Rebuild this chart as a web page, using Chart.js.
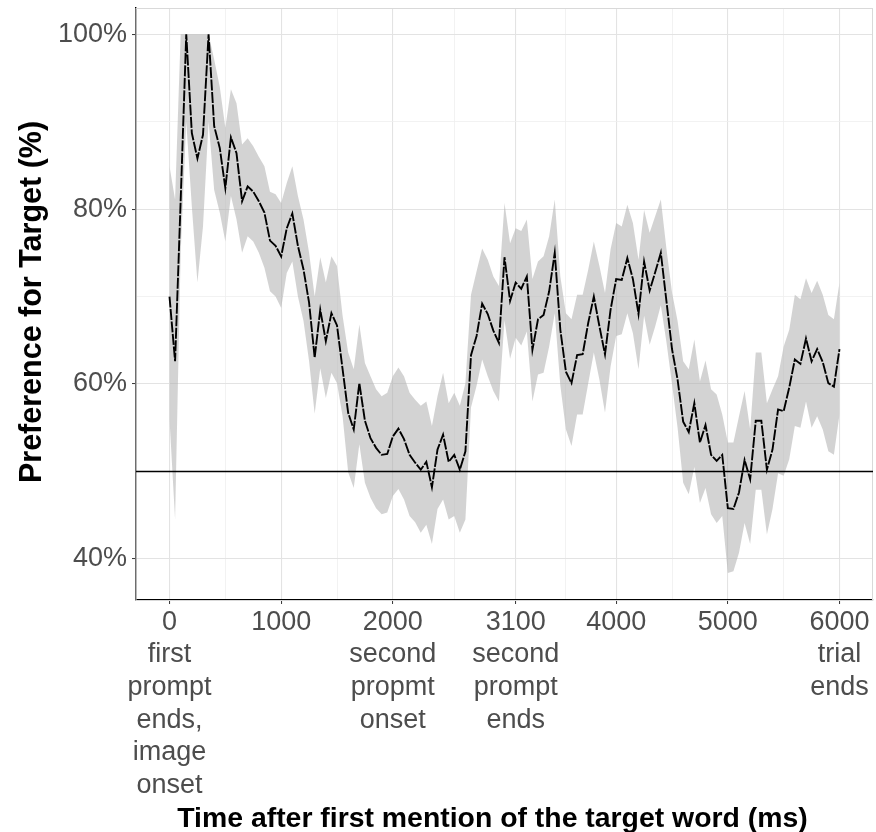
<!DOCTYPE html>
<html>
<head>
<meta charset="utf-8">
<title>Preference for Target over time</title>
<script src="https://cdn.jsdelivr.net/npm/chart.js@4.4.1/dist/chart.umd.min.js"></script>
<style>
  html, body { margin: 0; padding: 0; background: #fff; }
  #wrap { width: 876px; height: 832px; position: relative; }
</style>
</head>
<body>
<div id="wrap"><canvas id="prefChart"></canvas></div>
<script>
// time bins (ms after first mention)
const timeMs = [
  0, 50, 100, 150, 200, 250, 300, 350, 400, 450,
  500, 550, 600, 650, 700, 750, 800, 850, 900, 950,
  1000, 1050, 1100, 1150, 1200, 1250, 1300, 1350, 1400, 1450,
  1500, 1550, 1600, 1650, 1700, 1750, 1800, 1850, 1900, 1950,
  2000, 2050, 2100, 2150, 2200, 2250, 2300, 2350, 2400, 2450,
  2500, 2550, 2600, 2650, 2700, 2750, 2800, 2850, 2900, 2950,
  3000, 3050, 3100, 3150, 3200, 3250, 3300, 3350, 3400, 3450,
  3500, 3550, 3600, 3650, 3700, 3750, 3800, 3850, 3900, 3950,
  4000, 4050, 4100, 4150, 4200, 4250, 4300, 4350, 4400, 4450,
  4500, 4550, 4600, 4650, 4700, 4750, 4800, 4850, 4900, 4950,
  5000, 5050, 5100, 5150, 5200, 5250, 5300, 5350, 5400, 5450,
  5500, 5550, 5600, 5650, 5700, 5750, 5800, 5850, 5900, 5950,
  6000
];

// mean preference for target (%)
const meanPref = [
  70.0, 62.6, 81.0, 100, 88.7, 85.8, 88.5, 100, 89.5, 87.0,
  82.4, 88.2, 86.4, 80.9, 82.6, 82.0, 80.9, 79.6, 76.4, 75.8,
  74.6, 77.8, 79.5, 75.8, 73.1, 69.3, 63.0, 68.5, 64.9, 68.1,
  66.7, 61.7, 56.7, 54.8, 60.1, 55.8, 53.8, 52.7, 51.9, 52.0,
  54.0, 54.9, 53.7, 51.9, 51.0, 50.2, 51.1, 48.2, 52.5, 54.2,
  51.1, 51.9, 50.2, 52.3, 63.3, 65.5, 69.2, 68.0, 66.1, 64.7,
  74.5, 69.5, 71.6, 70.9, 72.3, 63.9, 67.4, 67.9, 70.6, 75.0,
  66.2, 61.4, 60.1, 63.3, 63.4, 67.0, 70.0, 66.6, 63.4, 68.5,
  72.0, 71.9, 74.4, 72.0, 68.0, 74.0, 70.7, 72.8, 75.0, 69.5,
  64.0, 60.5, 55.7, 54.5, 57.8, 53.3, 55.3, 51.9, 51.2, 51.9,
  45.8, 45.7, 47.6, 51.3, 49.1, 55.8, 55.8, 50.2, 52.5, 57.1,
  56.9, 59.6, 62.8, 62.3, 65.2, 62.6, 64.0, 62.5, 60.1, 59.7,
  64.0
];

// upper edge of the grey band (%)
const upperPref = [
  84.9, 81.1, 100, 100, 100, 100, 100, 100, 97.1, 94.0,
  89.3, 93.7, 92.1, 87.4, 88.1, 87.2, 86.0, 84.9, 82.0, 81.7,
  80.7, 83.0, 84.9, 81.5, 78.8, 75.0, 70.0, 74.5, 71.6, 74.6,
  73.5, 67.8, 63.6, 61.7, 66.8, 62.4, 60.9, 59.4, 58.6, 59.0,
  60.9, 61.9, 60.9, 59.0, 58.2, 57.5, 58.0, 55.2, 58.6, 61.3,
  57.8, 59.0, 57.5, 60.1, 70.2, 72.9, 75.5, 74.2, 72.3, 71.2,
  80.7, 76.1, 77.8, 77.5, 78.8, 72.0, 74.0, 74.6, 76.9, 81.1,
  72.3, 68.1, 67.4, 70.2, 70.2, 73.1, 76.3, 73.5, 70.4, 75.4,
  78.4, 78.0, 80.5, 78.4, 74.2, 79.9, 77.3, 79.2, 81.1, 75.5,
  70.5, 67.2, 62.6, 61.7, 65.1, 60.3, 62.7, 59.4, 58.8, 56.5,
  53.3, 53.3, 56.3, 59.2, 54.8, 63.6, 63.6, 57.8, 59.4, 60.9,
  64.3, 66.2, 70.2, 69.7, 72.1, 70.4, 71.8, 70.2, 67.9, 67.4,
  71.6
];

// lower edge of the grey band (%)
const lowerPref = [
  56.0, 44.5, 75.0, 90.0, 80.3, 71.6, 78.0, 90.0, 82.2, 79.6,
  76.3, 81.5, 78.8, 75.0, 76.9, 76.3, 75.0, 73.3, 70.6, 70.0,
  68.7, 72.7, 74.0, 70.0, 67.2, 62.6, 56.6, 61.8, 58.4, 61.3,
  60.1, 56.3, 49.9, 48.1, 53.1, 48.7, 47.0, 45.8, 45.1, 45.3,
  47.2, 48.0, 46.8, 44.9, 44.2, 43.0, 43.9, 41.7, 45.7, 46.8,
  44.5, 44.9, 43.0, 44.5, 57.3, 59.8, 62.8, 60.9, 59.2, 58.0,
  67.3, 62.9, 65.3, 64.4, 66.0, 58.0, 61.1, 61.3, 64.3, 68.1,
  59.8, 54.8, 52.9, 56.5, 56.5, 60.1, 63.6, 60.5, 56.7, 62.0,
  65.5, 65.7, 68.1, 65.8, 61.7, 67.8, 64.5, 66.6, 69.0, 64.8,
  60.0, 55.0, 48.7, 47.4, 50.5, 46.4, 48.1, 45.1, 44.1, 44.9,
  38.4, 38.6, 40.7, 44.1, 41.7, 47.9, 47.9, 42.8, 45.7, 49.8,
  49.5, 51.4, 55.2, 55.0, 58.0, 55.0, 56.3, 54.8, 52.3, 51.9,
  56.5
];

// axis ticks (minor ones get no label)
const xTickValues = [0, 500, 1000, 1500, 2000, 2550, 3100, 3550, 4000, 4500, 5000, 5500, 6000];
const xTickLabels = {
  0: ["0", "first", "prompt", "ends,", "image", "onset"],
  1000: ["1000"],
  2000: ["2000", "second", "propmt", "onset"],
  3100: ["3100", "second", "prompt", "ends"],
  4000: ["4000"],
  5000: ["5000"],
  6000: ["6000", "trial", "ends"]
};
const yTickValues = [40, 50, 60, 70, 80, 90, 100];
const yTickLabels = { 40: "40%", 60: "60%", 80: "80%", 100: "100%" };
const chanceLevel = 50;

const xTitle = "Time after first mention of the target word (ms)";
const yTitle = "Preference for Target (%)";

Chart.defaults.font.family = '"Liberation Sans", Arial, Helvetica, sans-serif';

const toPoints = vals => timeMs.map((t, i) => ({ x: t, y: vals[i] }));

// grey frame, 50% line and the two axis titles
const decorations = {
  id: "decorations",
  beforeDatasetsDraw(chart) {
    const { ctx, chartArea: a } = chart;
    ctx.save();
    ctx.strokeStyle = "#d9d9d9";
    ctx.lineWidth = 1;
    ctx.strokeRect(a.left, a.top + 0.5, a.right - a.left - 0.5, a.bottom - a.top);
    ctx.restore();
  },
  afterDatasetsDraw(chart) {
    const { ctx, chartArea: a, scales } = chart;
    const y = scales.y.getPixelForValue(chanceLevel);
    ctx.save();
    ctx.strokeStyle = "#000";
    ctx.lineWidth = 1.4;
    ctx.beginPath();
    ctx.moveTo(a.left, y);
    ctx.lineTo(a.right, y);
    ctx.stroke();
    ctx.restore();
  },
  afterDraw(chart) {
    const { ctx, chartArea: a } = chart;
    ctx.save();
    ctx.fillStyle = "#000";
    ctx.font = 'bold 28.4px "Liberation Sans", Arial, sans-serif';
    ctx.textAlign = "center";
    ctx.textBaseline = "alphabetic";
    ctx.fillText(xTitle, (a.left + a.right) / 2 - 12, 827);

    ctx.font = 'bold 30.5px "Liberation Sans", Arial, sans-serif';
    ctx.translate(41, (a.top + a.bottom) / 2 - 2);
    ctx.rotate(-Math.PI / 2);
    ctx.fillText(yTitle, 0, 0);
    ctx.restore();
  }
};

const isMajorX = v => xTickLabels[v] !== undefined;
const isMajorY = v => yTickLabels[v] !== undefined;

new Chart(document.getElementById("prefChart"), {
  type: "line",
  data: {
    datasets: [
      {
        label: "upper",
        data: toPoints(upperPref),
        borderColor: "rgba(0,0,0,0)",
        borderWidth: 0,
        pointRadius: 0,
        fill: "+1",
        backgroundColor: "rgba(175,175,175,0.55)",
        order: 2
      },
      {
        label: "lower",
        data: toPoints(lowerPref),
        borderColor: "rgba(0,0,0,0)",
        borderWidth: 0,
        pointRadius: 0,
        fill: false,
        order: 3
      },
      {
        label: "mean",
        data: toPoints(meanPref),
        borderColor: "#000",
        borderWidth: 1.9,
        borderDash: [11, 1.5],
        pointRadius: 0,
        fill: false,
        tension: 0,
        order: 1
      }
    ]
  },
  options: {
    responsive: true,
    maintainAspectRatio: false,
    animation: false,
    layout: { padding: { top: 8, right: 3, left: 0, bottom: 0 } },
    plugins: {
      legend: { display: false },
      tooltip: { enabled: false }
    },
    scales: {
      x: {
        type: "linear",
        min: -300,
        max: 6300,
        afterBuildTicks: axis => { axis.ticks = xTickValues.map(v => ({ value: v })); },
        afterFit: axis => {
          axis.height = 232;
          axis.paddingLeft = 0;
          axis.paddingRight = 0;
        },
        ticks: {
          autoSkip: false,
          maxRotation: 0,
          padding: 2,
          color: "#4d4d4d",
          font: { size: 27, lineHeight: 1.21 },
          callback: v => xTickLabels[v] || ""
        },
        grid: {
          color: c => (c.tick && isMajorX(c.tick.value) ? "#e3e3e3" : "#efefef"),
          lineWidth: c => (c.tick && isMajorX(c.tick.value) ? 1.1 : 0.8),
          tickLength: 4,
          tickWidth: 1,
          tickColor: c => (c.tick && isMajorX(c.tick.value) ? "#333" : "rgba(0,0,0,0)")
        },
        border: { color: "#000", width: 1.4 }
      },
      y: {
        min: 35.3,
        max: 103,
        afterBuildTicks: axis => { axis.ticks = yTickValues.map(v => ({ value: v })); },
        afterFit: axis => {
          axis.width = 136;
          axis.paddingTop = 0;
          axis.paddingBottom = 0;
        },
        ticks: {
          autoSkip: false,
          padding: 5,
          color: "#4d4d4d",
          font: { size: 27 },
          callback: v => yTickLabels[v] || ""
        },
        grid: {
          color: c => (c.tick && isMajorY(c.tick.value) ? "#e3e3e3" : "#efefef"),
          lineWidth: c => (c.tick && isMajorY(c.tick.value) ? 1.1 : 0.8),
          tickLength: 4,
          tickWidth: 1,
          tickColor: c => (c.tick && isMajorY(c.tick.value) ? "#333" : "rgba(0,0,0,0)")
        },
        border: { color: "#000", width: 1.4 }
      }
    }
  },
  plugins: [decorations]
});
</script>
</body>
</html>
